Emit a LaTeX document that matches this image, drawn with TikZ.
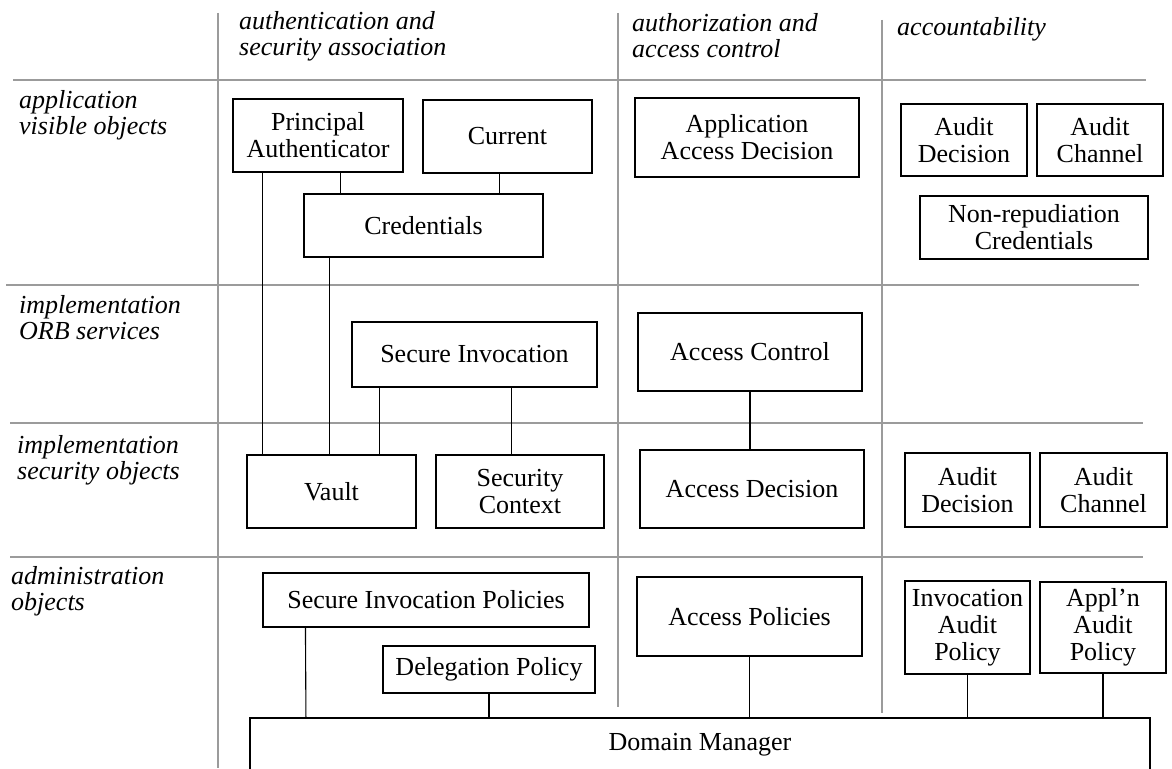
\documentclass[tikz,border=0pt]{standalone}
\usepackage{fontspec}
\setmainfont{Liberation Serif}
\definecolor{gridgray}{RGB}{155,155,155}

\begin{document}
\begin{tikzpicture}[x=1pt, y=-1pt,
    box/.style={draw, line width=1.1pt, align=center, inner sep=0pt, font=\fontsize{26}{27}\selectfont},
    conn/.style={line width=1.1pt},
    sepline/.style={draw=gridgray, line width=1.3pt},
    hdr/.style={anchor=north west, align=left, inner sep=0pt, font=\fontsize{26}{26.5}\selectfont\itshape}
]
\useasboundingbox (0,0) rectangle (1172,768);

% table lines
\draw[sepline] (218,13) -- (218,768);
\draw[sepline] (618,13) -- (618,707);
\draw[sepline] (882,20) -- (882,713);
\draw[sepline] (13,80) -- (1146,80);
\draw[sepline] (6,285) -- (1139,285);
\draw[sepline] (10,423) -- (1143,423);
\draw[sepline] (10,557) -- (1143,557);

% column and row headings
\node[hdr] (hauth) at (239,11) {authentication and\\security association};
\node[hdr] (hacc) at (632,13) {authorization and\\access control};
\node[hdr] (haud) at (897,17) {accountability};
\node[hdr] (rapp) at (19,90) {application\\visible objects};
\node[hdr] (rorb) at (19,295) {implementation\\ORB services};
\node[hdr] (rsec) at (17,435) {implementation\\security objects};
\node[hdr] (radm) at (11,566) {administration\\objects};

% application visible objects
\node[box, minimum width=170, minimum height=73] (pa) at (318,135.5) {Principal\\Authenticator};
\node[box, minimum width=169, minimum height=73] (cur) at (507.5,136.5) {Current};
\node[box, minimum width=239, minimum height=63] (cred) at (423.5,225.5) {Credentials};
\node[box, minimum width=224, minimum height=79] (aad) at (747,137.5) {Application\\Access Decision};
\node[box, minimum width=126, minimum height=72] (adtop) at (964,140) {Audit\\Decision};
\node[box, minimum width=126, minimum height=72] (actop) at (1100,140) {Audit\\Channel};
\node[box, minimum width=228, minimum height=63] (nrc) at (1034,227.5) {Non-repudiation\\Credentials};

% implementation ORB services
\node[box, minimum width=245, minimum height=65] (si) at (474.5,354.5) {Secure Invocation};
\node[box, minimum width=224, minimum height=78] (acc) at (750,352) {Access Control};

% implementation security objects
\node[box, minimum width=169, minimum height=73] (vault) at (331.5,491.5) {Vault};
\node[box, minimum width=168, minimum height=73] (sc) at (520,491.5) {Security\\Context};
\node[box, minimum width=224, minimum height=78] (ad) at (752,489) {Access Decision};
\node[box, minimum width=125, minimum height=74] (adimpl) at (967.5,490) {Audit\\Decision};
\node[box, minimum width=127, minimum height=74] (acimpl) at (1103.5,490) {Audit\\Channel};

% administration objects
\node[box, minimum width=326, minimum height=54] (sip) at (426,600) {Secure Invocation Policies};
\node[box, minimum width=212, minimum height=47] (dp) at (489,669.5) {Delegation Policy};
\node[box, minimum width=225, minimum height=79] (ap) at (749.5,616.5) {Access Policies};
\node[box, minimum width=125, minimum height=93] (iap) at (967.5,627.5) {Invocation\\Audit\\Policy};
\node[box, minimum width=126, minimum height=91] (aap) at (1103,627.5) {Appl’n\\Audit\\Policy};
\node[box, minimum width=900, minimum height=54] (dm) at (700,745) {Domain Manager};

% connections
\draw[conn] ([xshift=30pt]pa.south west) -- ([xshift=16pt]vault.north west);
\draw[conn] ([xshift=108pt]pa.south west) -- ([xshift=37pt]cred.north west);
\draw[conn] ([xshift=77pt]cur.south west) -- ([xshift=196pt]cred.north west);
\draw[conn] ([xshift=26pt]cred.south west) -- ([xshift=83pt]vault.north west);
\draw[conn] ([xshift=28pt]si.south west) -- ([xshift=133pt]vault.north west);
\draw[conn] ([xshift=160pt]si.south west) -- ([xshift=76pt]sc.north west);
\draw[conn] (acc.south) -- (acc.south |- ad.north);
\draw[conn] ([xshift=43pt]sip.south west) -- ([xshift=56.5pt]dm.north west);
\draw[conn] (dp.south) -- (dp.south |- dm.north);
\draw[conn] (ap.south) -- (ap.south |- dm.north);
\draw[conn] (iap.south) -- (iap.south |- dm.north);
\draw[conn] (aap.south) -- (aap.south |- dm.north);
\end{tikzpicture}
\end{document}
